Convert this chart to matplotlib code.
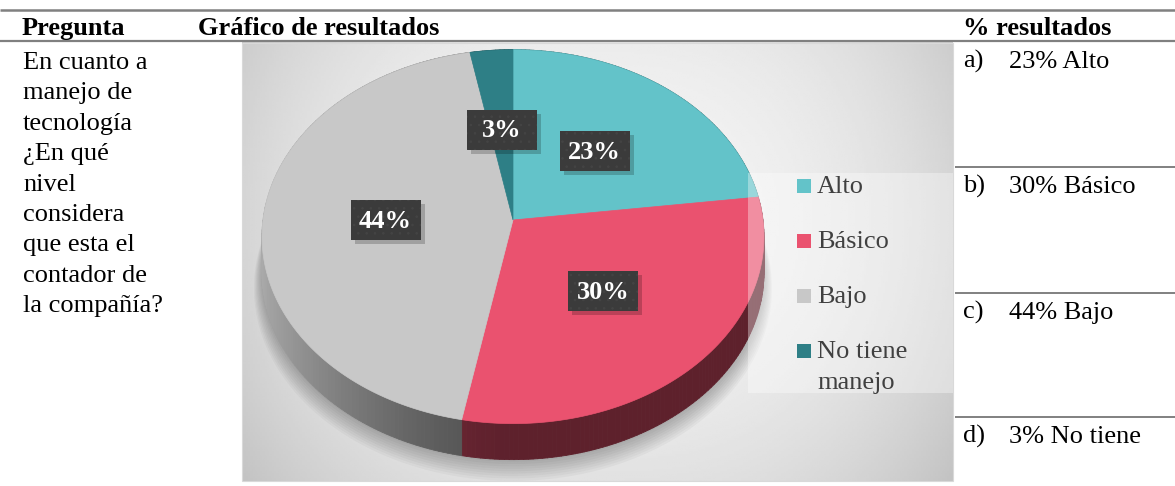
import numpy as np
import matplotlib.pyplot as plt
from matplotlib.patches import Polygon, Rectangle
from matplotlib.collections import PolyCollection
from matplotlib.colors import to_rgb

plt.rcParams['font.family'] = ['Liberation Serif', 'DejaVu Serif']
plt.rcParams['hatch.linewidth'] = 0.6

## data ##############################
categories = ['Alto', 'Básico', 'Bajo', 'No tiene manejo']
legend_labels = ['Alto', 'Básico', 'Bajo', 'No tiene\nmanejo']
shares = [23, 30, 44, 3]
colors = ['#63c3c9', '#ea526f', '#c8c8c8', '#2e7f86']

headers = ['Pregunta', 'Gráfico de resultados', '% resultados']
question_lines = ['En cuanto a', 'manejo de', 'tecnología', '¿En qué', 'nivel',
                  'considera', 'que esta el', 'contador de', 'la compañía?']
result_letters = ['a)', 'b)', 'c)', 'd)']
result_texts = ['23% Alto', '30% Básico', '44% Bajo', '3% No tiene']

## layout (pixels) ###################
W, H = 1175, 486
FS = 19
cx, cy = 513, 220          # apex of the pie
A, B, p = 250, 185.5, 0.089  # radii and perspective
depth = 36
label_r = 0.51

fig = plt.figure(figsize=(W / 100, H / 100), dpi=100)
ax = fig.add_axes([0, 0, 1, 1])
ax.set_xlim(0, W)
ax.set_ylim(H, 0)
ax.axis('off')


def proj(theta, r=1.0):
    t = np.radians(theta)
    u, v = r * np.cos(t), r * np.sin(t)
    s = 1 / (1 + p * v)
    return cx + A * u * s, cy - B * v * s


def side_shade(theta):
    c = np.cos(np.radians(theta - 180))
    return 0.40 + 0.45 * np.clip(c, 0, 1) ** 1.5


# chart background (radial gray gradient)
x0, x1, y0, y1 = 242, 953, 43, 481
gx, gy = np.meshgrid(np.linspace(-1, 1, 300), np.linspace(-1, 1, 200))
grad = 0.955 - 0.12 * (gx ** 2) ** 1.3 - 0.05 * (gy + 0.2) ** 2
ax.imshow(grad, cmap='gray', vmin=0, vmax=1, extent=[x0, x1, y1, y0],
          aspect='auto', zorder=0, interpolation='bilinear')
ax.add_patch(Rectangle((x0, y0), x1 - x0, y1 - y0, fill=False,
                       edgecolor='#d9d9d9', lw=0.8, zorder=1))

# soft shadow under the pie
full = np.linspace(0, 360, 361)
ex, ey = proj(full)
for k in range(9):
    sc = 1 + 0.004 * k
    ax.add_patch(Polygon(np.column_stack([cx + (ex - cx) * sc,
                                          cy + (ey - cy) * sc + depth + 2 + 1.6 * k]),
                         closed=True, facecolor='black', edgecolor='none',
                         alpha=0.03, zorder=2))

# wedges
fracs = np.array(shares) / np.sum(shares)
bounds = 90 - 360 * np.concatenate([[0], np.cumsum(fracs)])

for i in range(len(shares)):
    th = np.linspace(bounds[i], bounds[i + 1], max(int(abs(bounds[i] - bounds[i + 1])), 2) + 1)
    rx, ry = proj(th)
    base = np.array(to_rgb(colors[i]))
    quads, cols = [], []
    for j in range(len(th) - 1):
        quads.append([(rx[j], ry[j]), (rx[j + 1], ry[j + 1]),
                      (rx[j + 1], ry[j + 1] + depth), (rx[j], ry[j] + depth)])
        cols.append(np.clip(base * side_shade(0.5 * (th[j] + th[j + 1])), 0, 1))
    ax.add_collection(PolyCollection(quads, facecolors=cols, edgecolors=cols,
                                     linewidths=0.6, zorder=3))

for i in range(len(shares)):
    th = np.linspace(bounds[i], bounds[i + 1], max(int(abs(bounds[i] - bounds[i + 1])), 2) + 1)
    rx, ry = proj(th)
    pts = np.column_stack([np.r_[cx, rx], np.r_[cy, ry]])
    ax.add_patch(Polygon(pts, closed=True, facecolor=colors[i], edgecolor=colors[i],
                         lw=0.5, zorder=4))

# data labels
for i in range(len(shares)):
    mid = 0.5 * (bounds[i] + bounds[i + 1])
    lx, ly = proj(mid, label_r)
    ax.add_patch(Rectangle((lx - 35 + 4, ly - 20 + 4), 70, 40, facecolor='black',
                           edgecolor='none', alpha=0.2, zorder=5))
    ax.add_patch(Rectangle((lx - 35, ly - 20), 70, 40, facecolor='#3b3b3b',
                           edgecolor='#444444', hatch='..', lw=0, zorder=6))
    ax.text(lx, ly + 1, f'{shares[i]}%', color='white', fontsize=FS, fontweight='bold',
            ha='center', va='center', zorder=7)

# legend
ax.add_patch(Rectangle((748, 173), 205, 220, facecolor='white', edgecolor='none',
                       alpha=0.35, zorder=8))
for i, lab in enumerate(legend_labels):
    my = 186 + 55 * i
    ax.add_patch(Rectangle((797, my - 7), 14, 14, facecolor=colors[i], edgecolor='none',
                           zorder=9))
    for k, line in enumerate(lab.split('\n')):
        ax.text(817, my + 7 + 31 * k, line, color='#404040', fontsize=FS,
                ha='left', va='baseline', zorder=9)

## table ##############################
line_col = '#808080'
ax.plot([0, W], [10, 10], color=line_col, lw=1.8, solid_capstyle='butt', zorder=10)
ax.plot([0, W], [41.5, 41.5], color=line_col, lw=1.6, solid_capstyle='butt', zorder=10)
for hx, htxt in zip([22, 198, 963], headers):
    ax.text(hx, 35, htxt, fontsize=FS, fontweight='bold', color='black',
            ha='left', va='baseline', zorder=10)

for k, line in enumerate(question_lines):
    ax.text(23, 69 + 30.4 * k, line, fontsize=FS, color='black',
            ha='left', va='baseline', zorder=10)

row_tops = [41.5, 167, 293, 417]
for i, (let, txt) in enumerate(zip(result_letters, result_texts)):
    if i > 0:
        ax.plot([955, W], [row_tops[i], row_tops[i]], color=line_col, lw=1.4,
                solid_capstyle='butt', zorder=10)
    ax.text(963, row_tops[i] + 26, let, fontsize=FS, color='black',
            ha='left', va='baseline', zorder=10)
    ax.text(1009, row_tops[i] + 26, txt, fontsize=FS, color='black',
            ha='left', va='baseline', zorder=10)

plt.savefig('out.png', dpi=100)
